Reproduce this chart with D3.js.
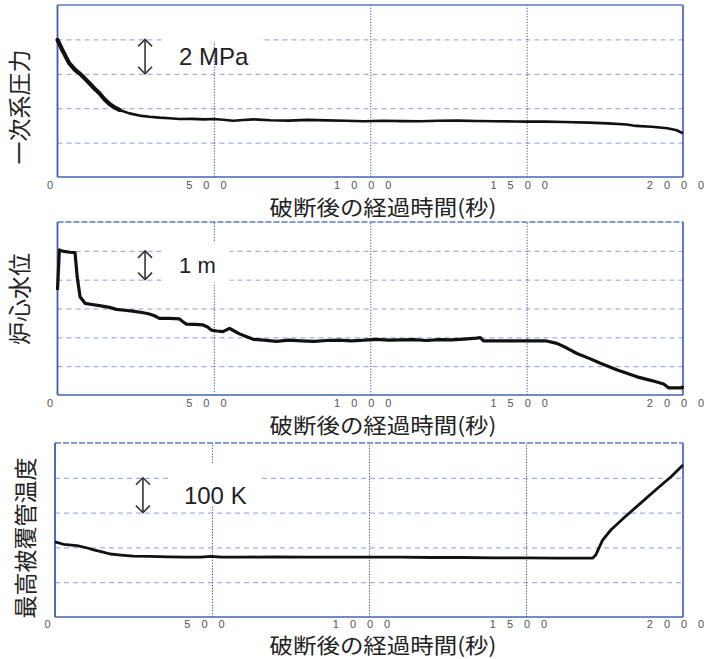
<!DOCTYPE html>
<html>
<head>
<meta charset="utf-8">
<script src="https://cdn.jsdelivr.net/npm/d3@7/dist/d3.min.js"></script>
<style>
  body { margin: 0; background: #fff; }
  svg { display: block; }
</style>
</head>
<body>
<div id="vis-container"></div>
<script>
// x axis (seconds after break)
var xTicks = [0, 500, 1000, 1500, 2000];
var xTitle = "破断後の経過時間(秒)";

// primary system pressure (MPa)
var pressTime = [0, 15, 28, 38, 55, 70, 86, 102, 118, 134, 150, 166, 182, 198, 230, 262, 294, 326, 358, 390, 430, 470, 498, 530, 562, 594, 626, 680, 740, 800, 860, 920, 980, 1040, 1100, 1160, 1220, 1280, 1340, 1400, 1460, 1500, 1560, 1620, 1700, 1760, 1820, 1850, 1900, 1950, 1980, 2000];
var pressVal = [7.97, 7.4, 6.94, 6.6, 6.25, 6.03, 5.75, 5.45, 5.15, 4.87, 4.52, 4.25, 4.05, 3.9, 3.7, 3.57, 3.5, 3.45, 3.42, 3.37, 3.38, 3.35, 3.37, 3.33, 3.27, 3.31, 3.35, 3.3, 3.28, 3.32, 3.29, 3.27, 3.24, 3.27, 3.25, 3.24, 3.27, 3.28, 3.26, 3.24, 3.23, 3.22, 3.22, 3.2, 3.16, 3.12, 3.05, 2.97, 2.92, 2.83, 2.72, 2.54];

// core water level (m)
var levelTime = [0, 6, 20, 40, 56, 63, 72, 88, 110, 134, 166, 188, 215, 240, 270, 294, 310, 326, 360, 390, 400, 412, 440, 465, 480, 492, 510, 529, 550, 565, 582, 605, 626, 660, 700, 740, 780, 820, 860, 900, 940, 980, 1020, 1060, 1100, 1140, 1180, 1220, 1258, 1300, 1340, 1352, 1362, 1400, 1450, 1500, 1560, 1597, 1630, 1661, 1700, 1736, 1790, 1853, 1900, 1938, 1954, 1997, 2000];
var levelVal = [3.64, 5.03, 4.98, 4.95, 4.94, 4.1, 3.41, 3.18, 3.14, 3.1, 3.04, 2.97, 2.94, 2.91, 2.86, 2.81, 2.75, 2.66, 2.66, 2.64, 2.55, 2.46, 2.45, 2.43, 2.36, 2.25, 2.22, 2.2, 2.31, 2.22, 2.12, 2.02, 1.93, 1.9, 1.86, 1.9, 1.88, 1.86, 1.89, 1.9, 1.88, 1.9, 1.93, 1.9, 1.91, 1.92, 1.89, 1.92, 1.91, 1.94, 1.97, 1.99, 1.88, 1.88, 1.88, 1.88, 1.88, 1.79, 1.62, 1.44, 1.27, 1.1, 0.87, 0.63, 0.5, 0.38, 0.25, 0.25, 0.31];

// peak cladding temperature (K)
var pctTime = [0, 27, 70, 100, 123, 150, 176, 210, 250, 300, 358, 420, 464, 496, 530, 600, 700, 800, 900, 1000, 1100, 1200, 1300, 1400, 1500, 1600, 1696, 1712, 1722, 1732, 1744, 1770, 1813, 1866, 1919, 1962, 2000];
var pctVal = [616, 609, 605, 599, 593, 587, 581, 578, 575, 574, 573, 572, 572, 574, 572, 572, 573, 572, 572, 572, 572, 571, 571, 570, 570, 569, 569, 569, 578, 598, 621, 650, 686, 728, 770, 803, 837];

var panels = [
  { title: "一次系圧力", t: pressTime, v: pressVal, domain: [0, 10], step: 2,
    left: 57.5, top: 5, bottom: 177, thickUntil: 14, width: 2.6, topDash: "none", titleOff: 30, tickY: 8.5,
    note: "2 MPa", box: [344, 648, 10.3, 7.85], noteSize: 24, labelX: 20, labelY: 107 },
  { title: "炉心水位", t: levelTime, v: levelVal, domain: [0, 6], step: 1,
    left: 57.5, top: 222, bottom: 395, thickUntil: 0, width: 3.2, topDash: "6,2", titleOff: 30, tickY: 8,
    note: "1 m", box: [344, 552, 5.3, 3.9], noteSize: 22, labelX: 20, labelY: 299 },
  { title: "最高被覆管温度", t: pctTime, v: pctVal, domain: [400, 900], step: 100,
    left: 55, top: 443, bottom: 617, thickUntil: 0, width: 2.8, topDash: "6,2", titleOff: 28, tickY: 7,
    note: "100 K", box: [366, 654, 843, 719], noteSize: 24, labelX: 26, labelY: 538 }
];

var W = 704, H = 659, right = 683;

var svg = d3.select("#vis-container").append("svg")
  .attr("width", W).attr("height", H)
  .style("font-family", "'Liberation Sans', Arial, sans-serif");

panels.forEach(function(p) {
  var x = d3.scaleLinear().domain([0, 2000]).range([p.left, right]);
  var y = d3.scaleLinear().domain(p.domain).range([p.bottom, p.top]);
  var g = svg.append("g");

  // horizontal dashed grid
  var hTicks = d3.range(p.domain[0] + p.step, p.domain[1] - p.step / 2, p.step);
  g.append("g")
    .attr("transform", "translate(" + p.left + ",0)")
    .call(d3.axisLeft(y).tickValues(hTicks).tickSize(-(right - p.left)).tickFormat(""))
    .call(function(a) { a.select(".domain").remove(); })
    .selectAll("line")
    .attr("stroke", "#8d9dd6").attr("stroke-width", 1).attr("stroke-dasharray", "5,4");

  // vertical dotted grid
  g.append("g")
    .attr("transform", "translate(0," + p.bottom + ")")
    .call(d3.axisBottom(x).tickValues([500, 1000, 1500]).tickSize(-(p.bottom - p.top)).tickFormat(""))
    .call(function(a) { a.select(".domain").remove(); })
    .selectAll("line")
    .attr("stroke", "#2f4fb0").attr("stroke-width", 1).attr("stroke-dasharray", "1.2,1.6");

  // white box behind note
  var b = p.box;
  g.append("rect")
    .attr("x", x(b[0])).attr("y", y(b[2]))
    .attr("width", x(b[1]) - x(b[0])).attr("height", y(b[3]) - y(b[2]))
    .attr("fill", "#fff");

  // frame
  g.append("line").attr("x1", p.left).attr("x2", right).attr("y1", p.top).attr("y2", p.top)
    .attr("stroke", "#6078c4").attr("stroke-width", 1.6).attr("stroke-dasharray", p.topDash);
  g.append("line").attr("x1", p.left).attr("x2", right).attr("y1", p.bottom).attr("y2", p.bottom)
    .attr("stroke", "#4565b8").attr("stroke-width", 1.5);
  g.append("line").attr("x1", p.left).attr("x2", p.left).attr("y1", p.top).attr("y2", p.bottom)
    .attr("stroke", "#3a5ab4").attr("stroke-width", 1.8);
  g.append("line").attr("x1", right).attr("x2", right).attr("y1", p.top).attr("y2", p.bottom)
    .attr("stroke", "#3a5ab4").attr("stroke-width", 1.6);

  // data line
  var pts = p.t.map(function(t, i) { return [t, p.v[i]]; });
  var line = d3.line().x(function(d) { return x(d[0]); }).y(function(d) { return y(d[1]); });
  g.append("path").datum(pts)
    .attr("d", line).attr("fill", "none")
    .attr("stroke", "#111").attr("stroke-width", p.width)
    .attr("stroke-linejoin", "round");
  if (p.thickUntil > 0) {
    g.append("path").datum(pts.slice(0, p.thickUntil))
      .attr("d", line).attr("fill", "none")
      .attr("stroke", "#111").attr("stroke-width", 4.2)
      .attr("stroke-linejoin", "round").attr("stroke-linecap", "round");
  }

  // double arrow spanning one grid step
  var ax = x(280);
  var ya = y(p.domain[1] - p.step), yb = y(p.domain[1] - 2 * p.step);
  if (p.step === 100) { ya = y(800); yb = y(700); }
  var ag = g.append("g").attr("stroke", "#333").attr("fill", "none").attr("stroke-width", 1.6);
  ag.append("line").attr("x1", ax).attr("x2", ax).attr("y1", ya + 1).attr("y2", yb - 1);
  ag.append("path").attr("d", "M" + (ax - 7) + "," + (ya + 7) + "L" + ax + "," + ya + "L" + (ax + 7) + "," + (ya + 7));
  ag.append("path").attr("d", "M" + (ax - 7) + "," + (yb - 7) + "L" + ax + "," + yb + "L" + (ax + 7) + "," + (yb - 7));

  g.append("text")
    .attr("x", x(b[0]) + 14).attr("y", (ya + yb) / 2)
    .attr("dy", "0.36em")
    .style("font-size", p.noteSize + "px").attr("fill", "#222")
    .text(p.note);

  // x tick labels
  g.append("g")
    .attr("transform", "translate(0," + p.bottom + ")")
    .call(d3.axisBottom(x).tickValues(xTicks).tickSize(0).tickPadding(0).tickFormat(d3.format("d")))
    .call(function(a) { a.select(".domain").remove(); })
    .selectAll("text")
    .attr("x", -2.5).attr("y", p.tickY).attr("dy", "0.36em")
    .style("letter-spacing", "11px")
    .style("font-family", "'Liberation Sans', Arial, sans-serif")
    .style("font-size", "11px").attr("fill", "#555");

  // x title
  g.append("text")
    .attr("x", 383).attr("y", p.bottom + p.titleOff).attr("dy", "0.36em")
    .attr("text-anchor", "middle")
    .attr("textLength", 227).attr("lengthAdjust", "spacingAndGlyphs")
    .style("font-family", "'Noto Sans CJK JP', sans-serif")
    .style("font-size", "21px").attr("fill", "#222")
    .text(xTitle);

  // y title
  g.append("text")
    .attr("transform", "translate(" + p.labelX + "," + p.labelY + ") rotate(-90)")
    .attr("text-anchor", "middle").attr("dy", "0.36em")
    .style("font-family", "'Noto Sans CJK JP', sans-serif")
    .style("font-size", "23px").attr("fill", "#222")
    .text(p.title);
});
</script>
</body>
</html>
